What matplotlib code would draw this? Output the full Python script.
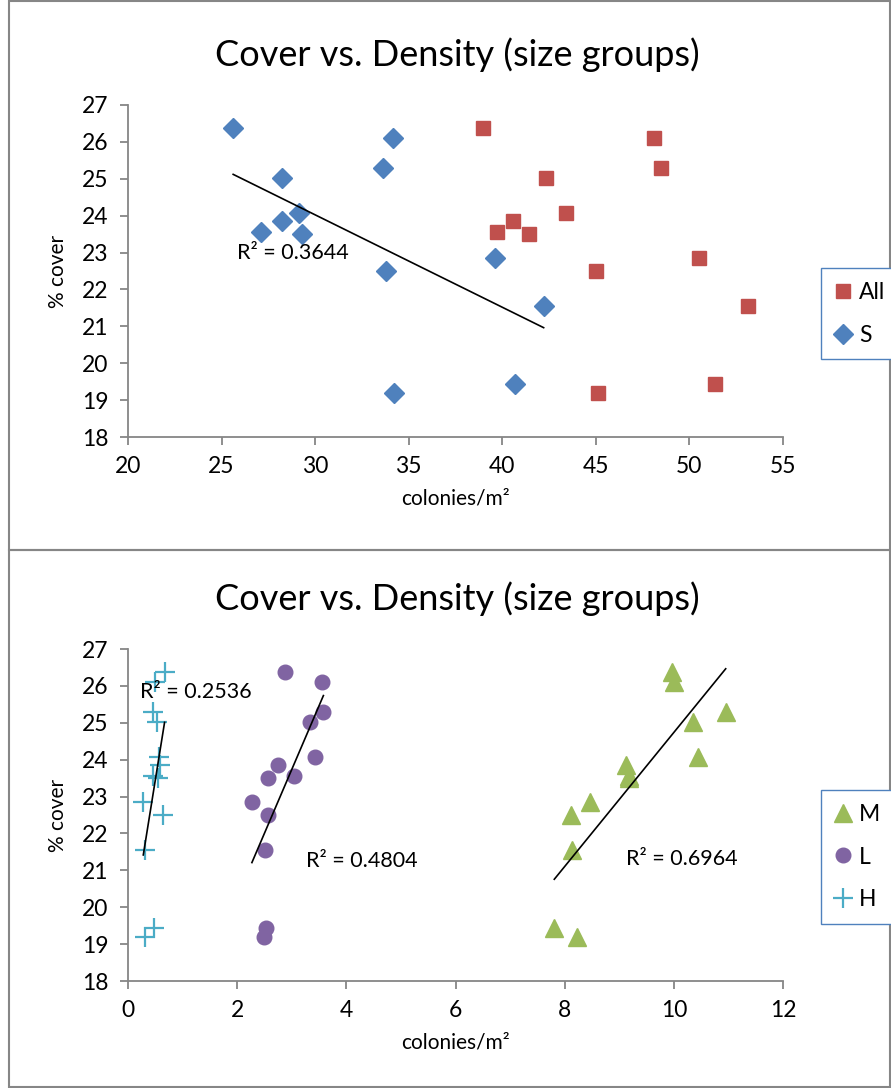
import numpy as np
import matplotlib
matplotlib.use("Agg")
import matplotlib.pyplot as plt
from matplotlib.patches import Rectangle

plt.rcParams['font.family'] = ['Lato', 'DejaVu Sans']

# % cover for each site (same order in every series)
cover = [26.38, 26.11, 25.28, 25.01, 24.08, 23.86, 23.56, 23.51, 22.86, 22.50, 21.54, 19.43, 19.19]

# colonies/m2 per size group
all_dens = [38.99, 48.11, 48.46, 42.32, 43.41, 40.56, 39.70, 41.41, 50.53, 44.99, 53.11, 51.38, 45.13]
s_dens = [25.62, 34.17, 33.61, 28.22, 29.13, 28.22, 27.13, 29.30, 39.63, 33.76, 42.21, 40.66, 34.20]
m_dens = [9.96, 10.00, 10.95, 10.35, 10.44, 9.13, 9.18, 9.18, 8.47, 8.11, 8.14, 7.81, 8.22]
l_dens = [2.88, 3.55, 3.58, 3.33, 3.43, 2.75, 3.04, 2.57, 2.27, 2.57, 2.51, 2.52, 2.49]
h_dens = [0.67, 0.50, 0.45, 0.53, 0.56, 0.59, 0.46, 0.55, 0.28, 0.65, 0.31, 0.48, 0.31]

r2_s = "R² = 0.3644"
r2_h = "R² = 0.2536"
r2_l = "R² = 0.4804"
r2_m = "R² = 0.6964"

BLUE = '#4F81BD'
RED = '#C0504D'
GREEN = '#9BBB59'
PURPLE = '#8064A2'
CYAN = '#4BACC6'
GRAY = '#868686'

W, H = 891, 1088
fig = plt.figure(figsize=(W / 100, H / 100), dpi=100)


def fx(px):
    return px / W


def fy(py):
    return 1 - py / H


def trend(ax, x, y):
    # linear trendline spanning the series' x range
    k, b = np.polyfit(x, y, 1)
    xs = np.array([min(x), max(x)])
    ax.plot(xs, k * xs + b, color='black', lw=1.2, zorder=3)


def style_axes(ax, xlim, xstep):
    ax.set_xlim(*xlim)
    ax.set_ylim(18, 27)
    ax.set_xticks(np.arange(xlim[0], xlim[1] + 0.01, xstep))
    ax.set_yticks(range(18, 28))
    for side in ('top', 'right'):
        ax.spines[side].set_visible(False)
    for side in ('left', 'bottom'):
        ax.spines[side].set_color(GRAY)
        ax.spines[side].set_linewidth(1.3)
    ax.tick_params(direction='out', length=6, width=1.3, color=GRAY,
                   labelsize=16.5, pad=8)
    ax.set_ylabel('% cover', fontsize=15, labelpad=10)
    ax.set_xlabel('colonies/m²', fontsize=15, labelpad=8)


def add_legend(handles, top_px):
    fig.legend(handles=handles, loc='upper left',
               bbox_to_anchor=(fx(821), fy(top_px)),
               bbox_transform=fig.transFigure, borderaxespad=0,
               fontsize=16.5, frameon=True, fancybox=False, edgecolor=BLUE,
               handlelength=0.7, handletextpad=0.35, labelspacing=0.95,
               borderpad=0.6, framealpha=1)


# panel frames
for top, bot in ((1, 550), (550, 1087)):
    fig.add_artist(Rectangle((fx(8.5), fy(bot)), fx(890 - 8.5), (bot - top) / H,
                             transform=fig.transFigure, fill=False,
                             edgecolor=GRAY, lw=1.5))

title = 'Cover vs. Density (size groups)'

# top chart: All and S
ax1 = fig.add_axes([fx(128), fy(437), fx(655), 332 / H])
ax1.plot(all_dens, cover, 's', color=RED, ms=10.5, label='All', clip_on=False)
ax1.plot(s_dens, cover, 'D', color=BLUE, ms=9.8, label='S', clip_on=False)
trend(ax1, s_dens, cover)
ax1.text(25.85, 22.98, r2_s, fontsize=15.5, va='center', ha='left')
style_axes(ax1, (20, 55), 5)
fig.text(fx(457), fy(55), title, fontsize=26, ha='center', va='center')
add_legend(ax1.get_lines()[:2], 268)

# bottom chart: M, L, H
ax2 = fig.add_axes([fx(128), fy(981), fx(655), 332 / H])
ax2.plot(m_dens, cover, '^', color=GREEN, ms=13.5, label='M', clip_on=False)
ax2.plot(l_dens, cover, 'o', color=PURPLE, ms=10.5, label='L', clip_on=False)
ax2.plot(h_dens, cover, '+', color=CYAN, ms=14, mew=1.6, label='H', clip_on=False)
trend(ax2, m_dens, cover)
trend(ax2, l_dens, cover)
trend(ax2, h_dens, cover)
ax2.text(0.22, 25.83, r2_h, fontsize=15.5, va='center', ha='left')
ax2.text(3.26, 21.26, r2_l, fontsize=15.5, va='center', ha='left')
ax2.text(9.12, 21.31, r2_m, fontsize=15.5, va='center', ha='left')
style_axes(ax2, (0, 12), 2)
fig.text(fx(457), fy(599), title, fontsize=26, ha='center', va='center')
add_legend(ax2.get_lines()[:3], 790)

fig.savefig('out.png', dpi=100)
